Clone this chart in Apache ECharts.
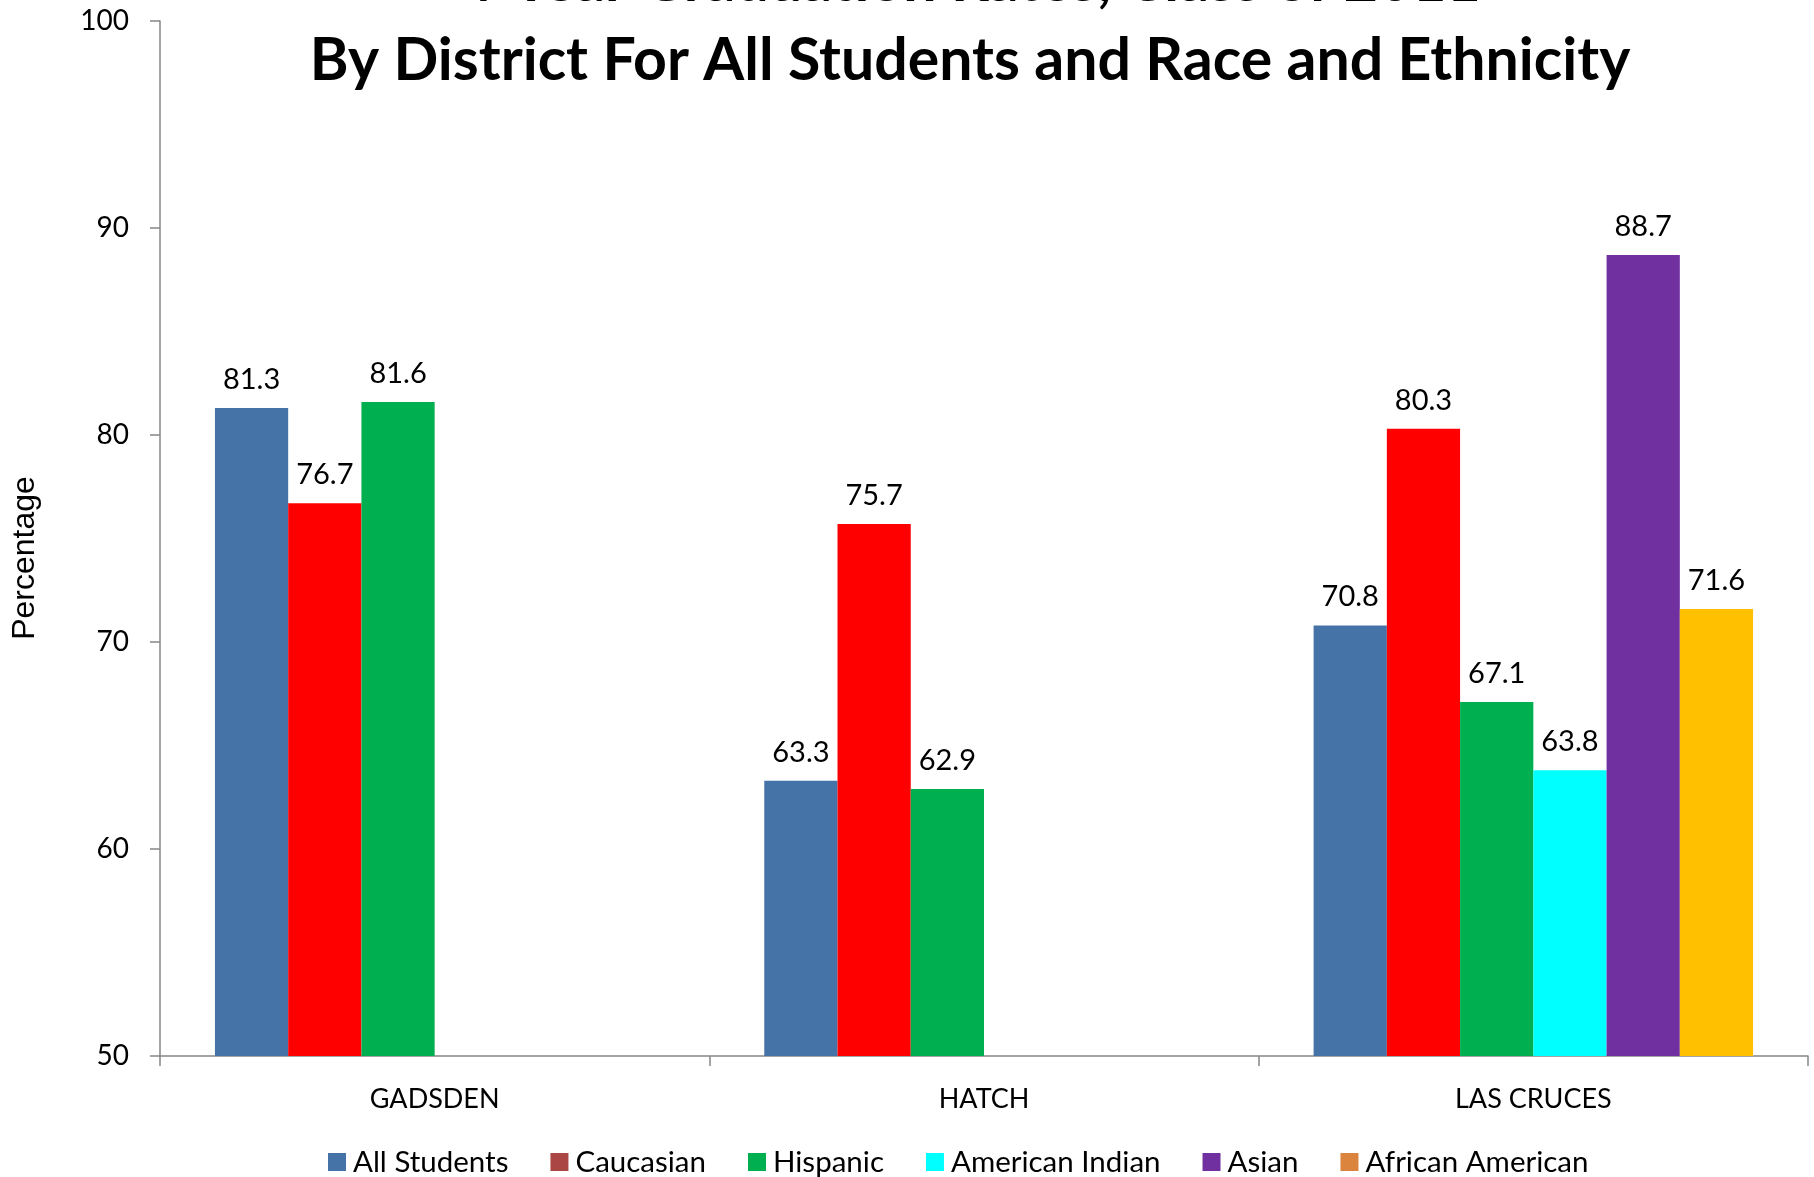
<!DOCTYPE html>
<html>
<head>
<meta charset="utf-8">
<script src="https://cdn.jsdelivr.net/npm/echarts@6/dist/echarts.min.js"></script>
<style>
  html, body { margin: 0; padding: 0; background: #fff; }
  #chart { width: 1814px; height: 1177px; }
</style>
</head>
<body>
<div id="chart"></div>
<script>
// Districts and 4-year graduation rates (%) by student group
const districts = ['GADSDEN', 'HATCH', 'LAS CRUCES'];
const groups = ['All Students', 'Caucasian', 'Hispanic', 'American Indian', 'Asian', 'African American'];

const allStudents     = [81.3, 63.3, 70.8];
const caucasian       = [76.7, 75.7, 80.3];
const hispanic        = [81.6, 62.9, 67.1];
const americanIndian  = [null, null, 63.8];
const asian           = [null, null, 88.7];
const africanAmerican = [null, null, 71.6];

const yTicks = [50, 60, 70, 80, 90, 100];

const seriesValues = [allStudents, caucasian, hispanic, americanIndian, asian, africanAmerican];

// Bar fill colours and the (slightly different) legend swatch colours
const barColors    = ['#4572A7', '#FF0000', '#00B050', '#00FFFF', '#7030A0', '#FFC000'];
const legendColors = ['#4572A7', '#AA4643', '#00B050', '#00FFFF', '#7030A0', '#DB843D'];

const labelFont = 'Lato, "Open Sans", sans-serif';

const chart = echarts.init(document.getElementById('chart'), null, { renderer: 'canvas' });

const series = groups.map((name, i) => ({
  name: name,
  type: 'bar',
  barGap: '0%',
  barCategoryGap: '20%',
  itemStyle: { color: barColors[i] },
  label: {
    show: true,
    position: 'top',
    distance: 14,
    color: '#000',
    fontFamily: labelFont,
    fontSize: 29,
    formatter: p => p.value.toFixed(1)
  },
  emphasis: { disabled: true },
  data: seriesValues[i]
}));

chart.setOption({
  animation: false,
  backgroundColor: '#ffffff',
  title: {
    text: '4-Year Graduation Rates, Class of 2011\nBy District For All Students and Race and Ethnicity',
    left: 965,
    top: -63,
    textAlign: 'center',
    textStyle: {
      fontFamily: labelFont,
      fontWeight: 'bold',
      fontSize: 59,
      lineHeight: 79,
      color: '#000'
    }
  },
  legend: {
    data: groups.map((g, i) => ({ name: g, itemStyle: { color: legendColors[i] } })),
    left: 323,
    top: 1142,
    icon: 'rect',
    itemWidth: 18,
    itemHeight: 18,
    itemGap: 42,
    textStyle: { fontFamily: labelFont, fontSize: 29.5, color: '#000', padding: [0, 0, 0, 2] },
    selectedMode: false
  },
  grid: { left: 160, right: 6, top: 21, bottom: 121, containLabel: false },
  xAxis: {
    type: 'category',
    data: districts,
    axisLine: { lineStyle: { color: '#868686', width: 1.5 } },
    axisTick: { show: true, length: 10, lineStyle: { color: '#868686', width: 1.5 } },
    axisLabel: { color: '#000', fontFamily: labelFont, fontSize: 27, margin: 30 }
  },
  yAxis: {
    type: 'value',
    min: yTicks[0],
    max: yTicks[yTicks.length - 1],
    interval: 10,
    axisLine: { show: true, lineStyle: { color: '#868686', width: 1.5 } },
    axisTick: { show: true, length: 10, lineStyle: { color: '#868686', width: 1.5 } },
    splitLine: { show: false },
    axisLabel: { color: '#000', fontFamily: labelFont, fontSize: 28, margin: 31 }
  },
  graphic: [{
    type: 'text',
    x: 25,
    y: 558,
    rotation: Math.PI / 2,
    style: {
      text: 'Percentage',
      fontFamily: '"Liberation Sans", Arial, sans-serif',
      fontSize: 32,
      fill: '#000',
      textAlign: 'center',
      textVerticalAlign: 'middle'
    }
  }],
  series: series
});
</script>
</body>
</html>
